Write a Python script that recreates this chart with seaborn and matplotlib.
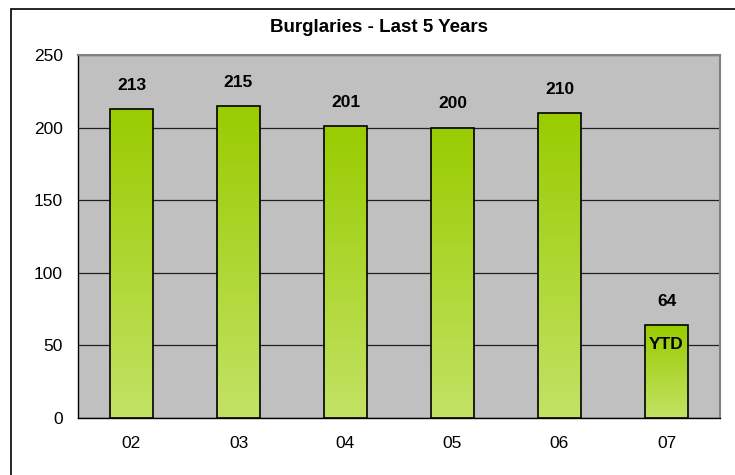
import numpy as np
import matplotlib
matplotlib.use('Agg')
from matplotlib import pyplot as plt
from matplotlib.colors import LinearSegmentedColormap
from matplotlib.patches import Rectangle
import seaborn as sns

years = ['02', '03', '04', '05', '06', '07']
burglaries = [213, 215, 201, 200, 210, 64]
ytd_label = 'YTD'
title = 'Burglaries - Last 5 Years'

sns.set_style('white')
plt.rcParams['font.family'] = ['Liberation Sans', 'DejaVu Sans']
plt.rcParams['font.size'] = 12.5
plt.rcParams['text.color'] = 'black'
plt.rcParams['xtick.color'] = 'black'
plt.rcParams['ytick.color'] = 'black'
plt.rcParams['axes.labelcolor'] = 'black'

fig = plt.figure(figsize=(7.35, 4.75), dpi=100)
ax = fig.add_axes([78 / 735, 57 / 475, 642 / 735, 363 / 475])
ax.set_facecolor('#C0C0C0')

sns.barplot(x=years, y=burglaries, width=0.4, color='#B0D840',
            edgecolor='black', linewidth=1.2, ax=ax, zorder=3)

# vertical gradient in each bar, dark green at top
cmap = LinearSegmentedColormap.from_list('bar', ['#C3E265', '#99CC00'])
grad = np.linspace(0, 1, 256).reshape(-1, 1)
for patch in ax.patches:
    x0, y0 = patch.get_xy()
    w, h = patch.get_width(), patch.get_height()
    im = ax.imshow(grad, extent=[x0, x0 + w, y0, y0 + h], origin='lower',
                   aspect='auto', cmap=cmap, zorder=2.9)
    im.set_clip_path(patch)
    patch.set_facecolor('none')

for i, v in enumerate(burglaries):
    ax.annotate(str(v), (i, v), xytext=(0, 17), textcoords='offset points',
                ha='center', va='center', fontweight='bold', fontsize=12.5)
ax.annotate(ytd_label, (len(years) - 1, burglaries[-1]), xytext=(0, -14),
            textcoords='offset points', ha='center', va='center',
            fontweight='bold', fontsize=12.5, zorder=5)

ax.set_xlim(-0.5, len(years) - 0.5)
ax.set_ylim(0, 250)
ax.set_yticks([0, 50, 100, 150, 200, 250])
ax.set_xticks(np.arange(len(years) + 1) - 0.5, minor=True)
ax.tick_params(axis='x', which='major', length=0, pad=13)
ax.tick_params(axis='x', which='minor', length=5, width=1, color='black',
               direction='out')
ax.tick_params(axis='y', length=5, width=1, color='black', direction='out',
               pad=6)
ax.yaxis.grid(True, color='#202020', linewidth=0.9)
ax.xaxis.grid(False)
ax.set_axisbelow(True)
for s in ['left', 'bottom']:
    ax.spines[s].set_color('black')
    ax.spines[s].set_linewidth(1)
for s in ['top', 'right']:
    ax.spines[s].set_color('#808080')
    ax.spines[s].set_linewidth(1.5)

fig.text(379 / 735, 1 - 28 / 475, title, ha='center', va='center',
         fontweight='bold', fontsize=13.5)

# outer chart border
fig.patches.append(Rectangle((11 / 735, -0.1), 1.2, 1 - 9 / 475 + 0.1,
                             transform=fig.transFigure, fill=False,
                             edgecolor='black', linewidth=1.2))

fig.savefig('out.png', dpi=100)
